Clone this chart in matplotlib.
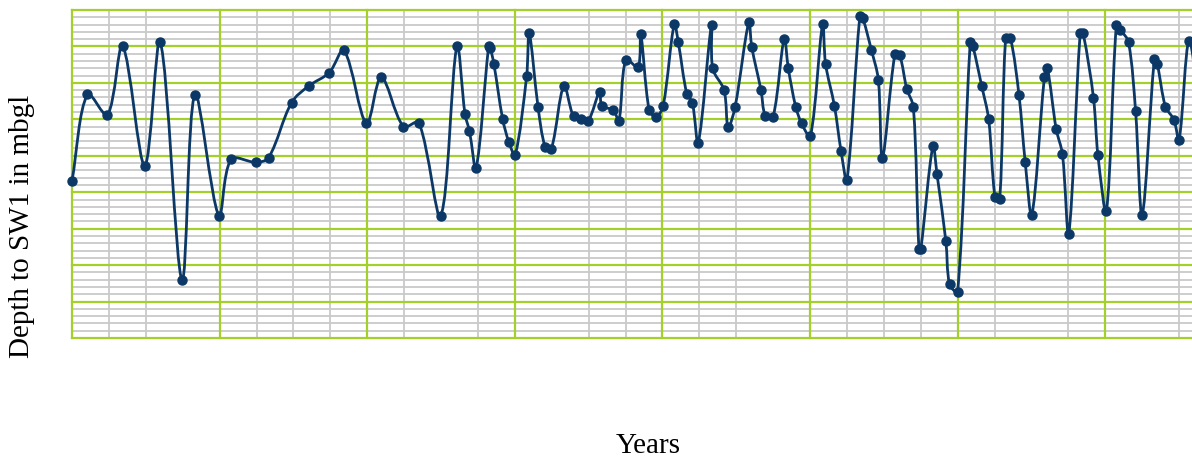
import matplotlib
matplotlib.use("Agg")
import matplotlib.pyplot as plt
from matplotlib.path import Path
from matplotlib.patches import PathPatch

# time in years from start of record, depth to water level in m below ground
years = [0.00, 0.42, 0.96, 1.37, 1.97, 2.39, 2.98, 3.33, 3.98, 4.31,
         4.99, 5.33, 5.95, 6.42, 6.97, 7.37, 7.98, 8.38, 8.98, 9.40,
         9.99, 10.43, 10.65, 10.77, 10.95, 11.29, 11.33, 11.43, 11.67, 11.84,
         12.01, 12.32, 12.39, 12.63, 12.82, 12.99, 13.33, 13.59, 13.80, 13.99,
         14.30, 14.36, 14.67, 14.82, 15.01, 15.34, 15.41, 15.64, 15.83, 16.02,
         16.32, 16.43, 16.66, 16.81, 16.97, 17.33, 17.36, 17.67, 17.78, 17.97,
         18.34, 18.42, 18.67, 18.79, 19.00, 19.30, 19.41, 19.61, 19.77, 20.01,
         20.34, 20.42, 20.66, 20.84, 21.00, 21.35, 21.43, 21.66, 21.85, 21.96,
         22.30, 22.43, 22.62, 22.80, 22.95, 23.00, 23.33, 23.44, 23.68, 23.78,
         24.00, 24.34, 24.41, 24.65, 24.84, 25.01, 25.14, 25.30, 25.43, 25.66,
         25.83, 26.01, 26.35, 26.43, 26.67, 26.84, 27.01, 27.32, 27.40, 27.68,
         27.80, 28.03, 28.30, 28.41, 28.63, 28.82, 29.00, 29.33, 29.41, 29.63,
         29.86, 30.00, 30.27, 30.57]
depth = [4.69, 2.31, 2.88, 0.99, 4.27, 0.87, 7.41, 2.32, 5.65, 4.10,
         4.18, 4.05, 2.54, 2.08, 1.72, 1.11, 3.11, 1.85, 3.20, 3.09,
         5.65, 0.99, 2.86, 3.32, 4.34, 1.00, 1.03, 1.47, 2.99, 3.63,
         3.98, 1.81, 0.64, 2.67, 3.75, 3.81, 2.09, 2.92, 3.00, 3.04,
         2.24, 2.63, 2.75, 3.04, 1.36, 1.57, 0.66, 2.75, 2.93, 2.63,
         0.39, 0.89, 2.30, 2.54, 3.64, 0.40, 1.60, 2.20, 3.22, 2.65,
         0.34, 1.01, 2.20, 2.91, 2.93, 0.79, 1.60, 2.65, 3.11, 3.47,
         0.39, 1.48, 2.63, 3.87, 4.67, 0.16, 0.23, 1.09, 1.91, 4.06,
         1.20, 1.24, 2.16, 2.67, 6.56, 6.57, 3.73, 4.51, 6.34, 7.52,
         7.73, 0.89, 0.99, 2.08, 3.00, 5.12, 5.19, 0.77, 0.77, 2.32,
         4.17, 5.62, 1.85, 1.60, 3.27, 3.96, 6.14, 0.63, 0.64, 2.41,
         3.98, 5.52, 0.41, 0.54, 0.89, 2.76, 5.62, 1.35, 1.49, 2.65,
         3.01, 3.57, 0.85, 2.88]

navy = '#0b3866'
green = '#a5cf2a'
grey = '#c9c9c9'

fig = plt.figure(figsize=(11.92, 4.59), dpi=100)
ax = fig.add_axes([72 / 1192, 1 - 338 / 459, 1 - 72 / 1192, 328 / 459])
ax.set_xlim(0, 30.35)
ax.set_ylim(9, 0)
for s in ax.spines.values():
    s.set_visible(False)
ax.set_xticks([])
ax.set_yticks([])

# grid
for i in range(46):
    if i % 5:
        ax.axhline(i * 0.2, color=grey, lw=1.3, zorder=1)
for i in range(10):
    ax.axhline(i, color=green, lw=1.6, zorder=2, clip_on=False)
skip = [3, None, 2, 1]
for b in range(8):
    for k in (1, 2, 3):
        if k != skip[b % 4]:
            ax.axvline(4 * b + k, color=grey, lw=1.3, zorder=1)
    ax.axvline(4 * b, color=green, lw=1.6, zorder=2, clip_on=False)

# smoothed line: chord-length catmull-rom bezier, no overshoot on close points
pts = list(zip(years, depth))
n = len(pts)
d = [((pts[i + 1][0] - pts[i][0]) ** 2 + (pts[i + 1][1] - pts[i][1]) ** 2) ** 0.5
     for i in range(n - 1)]
tang = []
for i in range(n):
    a = pts[max(i - 1, 0)]
    c = pts[min(i + 1, n - 1)]
    L = (d[i - 1] if i > 0 else 0) + (d[i] if i < n - 1 else 0)
    tang.append(((c[0] - a[0]) / L, (c[1] - a[1]) / L))
verts = [pts[0]]
codes = [Path.MOVETO]
for i in range(n - 1):
    k = d[i] / 3
    c1 = (pts[i][0] + tang[i][0] * k, pts[i][1] + tang[i][1] * k)
    c2 = (pts[i + 1][0] - tang[i + 1][0] * k, pts[i + 1][1] - tang[i + 1][1] * k)
    verts += [c1, c2, pts[i + 1]]
    codes += [Path.CURVE4] * 3
ax.add_patch(PathPatch(Path(verts, codes), fill=False, edgecolor=navy,
                       lw=2.0, zorder=3, clip_on=False))
ax.plot(years, depth, 'o', color=navy, ms=6.5, zorder=4, clip_on=False)

fig.text(22 / 1192, 1 - 226 / 459, 'Depth to SW1 in mbgl', rotation=90,
         ha='center', va='center', fontsize=21, family='Liberation Serif')
fig.text(648 / 1192, 1 - 446 / 459, 'Years', ha='center', va='center',
         fontsize=21, family='Liberation Serif')

fig.savefig('out.png', dpi=100)
